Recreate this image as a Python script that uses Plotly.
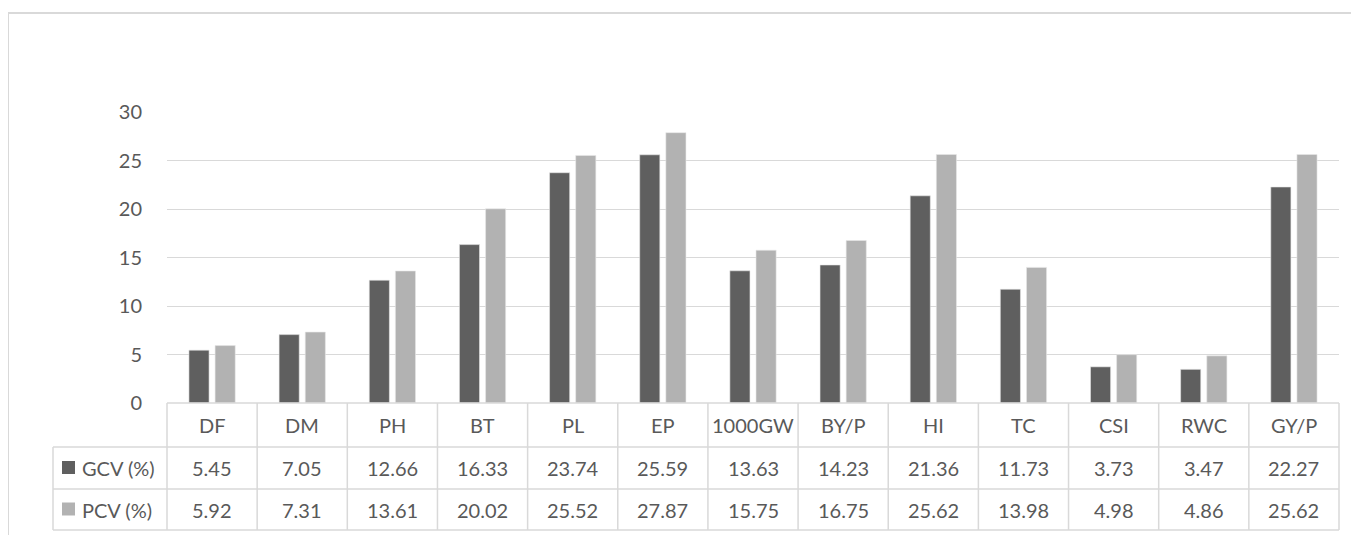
import plotly.graph_objects as go

categories = ["DF", "DM", "PH", "BT", "PL", "EP", "1000GW", "BY/P", "HI", "TC", "CSI", "RWC", "GY/P"]
gcv = [5.45, 7.05, 12.66, 16.33, 23.74, 25.59, 13.63, 14.23, 21.36, 11.73, 3.73, 3.47, 22.27]
pcv = [5.92, 7.31, 13.61, 20.02, 25.52, 27.87, 15.75, 16.75, 25.62, 13.98, 4.98, 4.86, 25.62]
series_names = ["GCV (%)", "PCV (%)"]
series_colors = ["#5f5f5f", "#b2b2b2"]
y_ticks = [0, 5, 10, 15, 20, 25, 30]

OFF = 8  # page body margin
W, H = 1359 - OFF, 535 - OFF
PL, PR, PT, PB = 167 - OFF, 1339 - OFF, 112 - OFF, 403 - OFF   # plot area in figure pixels
pw, ph = PR - PL, PB - PT

def px_x(x):  # page pixel -> paper
    return (x - OFF - PL) / pw

def px_y(y):
    return (PB - (y - OFF)) / ph

FONT = "Lato"
TXT = "#595959"
LINE = "#d9d9d9"
FS = 20

fig = go.Figure()
for name, vals, col in zip(series_names, [gcv, pcv], series_colors):
    fig.add_trace(go.Bar(x=categories, y=vals, name=name, marker=dict(color=col, line=dict(color="#e8e8e8", width=0.6))))

fig.update_layout(
    width=W, height=H, autosize=False,
    margin=dict(l=PL, r=W - PR, t=PT, b=H - PB, pad=0),
    plot_bgcolor="white", paper_bgcolor="white",
    showlegend=False,
    barmode="group", bargap=0.42, bargroupgap=0.23,
    font=dict(family=FONT, color=TXT, size=FS),
    xaxis=dict(showticklabels=False, showgrid=False, zeroline=False, showline=False, ticks=""),
    yaxis=dict(range=[0, 30], tickvals=y_ticks, showgrid=True, gridcolor=LINE, gridwidth=1.3,
               zeroline=False, showline=False, ticklabelstandoff=24,
               tickfont=dict(family=FONT, size=FS, color=TXT)),
)

shapes = []
# outer chart border
shapes.append(dict(type="rect", xref="paper", yref="paper", x0=px_x(8), x1=px_x(1370), y0=px_y(550), y1=px_y(13),
                   line=dict(color=LINE, width=2), fillcolor="rgba(0,0,0,0)", layer="below"))
# data table
row_y = [403, 447, 489, 530]
n = len(categories)
shapes.append(dict(type="line", xref="paper", yref="paper", x0=0, x1=1, y0=px_y(row_y[0]), y1=px_y(row_y[0]), line=dict(color=LINE, width=1.5)))
for ry in row_y[1:]:
    shapes.append(dict(type="line", xref="paper", yref="paper", x0=px_x(53), x1=1, y0=px_y(ry), y1=px_y(ry), line=dict(color=LINE, width=1.5)))
for k in range(n + 1):
    shapes.append(dict(type="line", xref="paper", yref="paper", x0=k / n, x1=k / n, y0=px_y(row_y[0]), y1=px_y(row_y[-1]), line=dict(color=LINE, width=1.5)))
shapes.append(dict(type="line", xref="paper", yref="paper", x0=px_x(53), x1=px_x(53), y0=px_y(row_y[1]), y1=px_y(row_y[-1]), line=dict(color=LINE, width=1.5)))

annotations = []
for i, c in enumerate(categories):
    xc = (i + 0.5) / n
    annotations.append(dict(x=xc, y=px_y((row_y[0] + row_y[1]) / 2), xref="paper", yref="paper", text=c, showarrow=False,
                            xanchor="center", yanchor="middle", font=dict(size=FS, color=TXT, family=FONT)))
    for r, vals in enumerate([gcv, pcv]):
        annotations.append(dict(x=xc, y=px_y((row_y[r + 1] + row_y[r + 2]) / 2), xref="paper", yref="paper",
                                text=f"{vals[i]:.2f}", showarrow=False, xanchor="center", yanchor="middle",
                                font=dict(size=FS, color=TXT, family=FONT)))
for r, (name, col) in enumerate(zip(series_names, series_colors)):
    yc = (row_y[r + 1] + row_y[r + 2]) / 2
    shapes.append(dict(type="rect", xref="paper", yref="paper", x0=px_x(62), x1=px_x(75), y0=px_y(yc + 6), y1=px_y(yc - 7),
                       fillcolor=col, line=dict(width=0)))
    annotations.append(dict(x=px_x(80), y=px_y(yc), xref="paper", yref="paper", text=name, showarrow=False,
                            xanchor="left", yanchor="middle", font=dict(size=FS, color=TXT, family=FONT)))

fig.update_layout(shapes=shapes, annotations=annotations)
fig.write_html("out.html")
